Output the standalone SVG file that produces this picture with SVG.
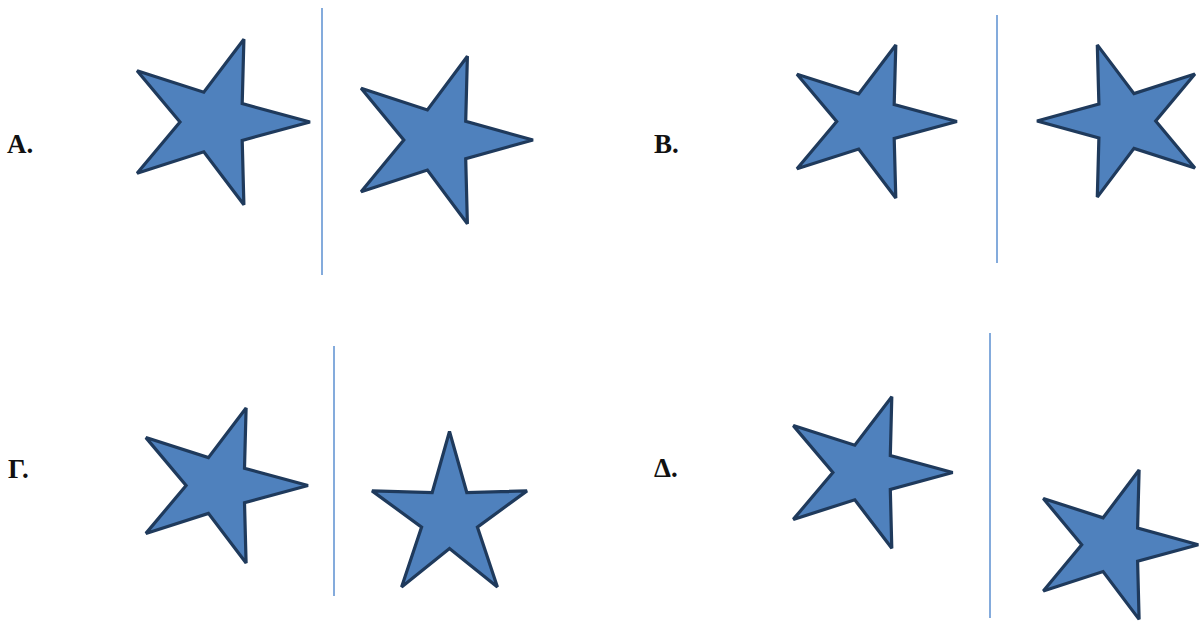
<svg xmlns="http://www.w3.org/2000/svg" width="1203" height="621" viewBox="0 0 1203 621">
<style>
.star{fill:#4f81bd;stroke:#1f3a5c;stroke-width:3.2;stroke-linejoin:miter;stroke-miterlimit:2}
.axis{stroke:#5b8fd0;stroke-width:1.5;fill:none}
.lbl{font-family:"Liberation Serif","DejaVu Serif",serif;font-weight:bold;font-size:27px;fill:#111}
</style>
<rect width="1203" height="621" fill="#fff"/>
<g id="connectors">
<line class="axis" x1="322" y1="8" x2="322" y2="275"/>
<line class="axis" x1="997" y1="15" x2="997" y2="263"/>
<line class="axis" x1="334" y1="346" x2="334" y2="596"/>
<line class="axis" x1="990" y1="333" x2="990" y2="618"/>
</g>
<g id="labelA"><text class="lbl" x="7" y="153">A.</text></g>
<g id="labelB"><text class="lbl" x="654" y="153">B.</text></g>
<g id="labelG"><text class="lbl" x="8" y="478">Γ.</text></g>
<g id="labelD"><text class="lbl" x="654" y="477">Δ.</text></g>
<g id="starA1"><polygon class="star" points="310,122 242.2,140.4 243.9,204.7 203.8,151.8 137.1,173.2 180,122 137.1,70.8 203.8,92.2 243.9,39.3 242.2,103.6"/></g>
<g id="starA2"><polygon class="star" points="533,140 465.7,158.6 467.4,223.7 427.4,170.1 361.1,191.7 403.8,140 361.1,88.3 427.4,109.9 467.4,56.3 465.7,121.4"/></g>
<g id="starB1"><polygon class="star" points="956.9,121.5 894.2,138.5 895.8,198 858.7,149 797,168.8 836.7,121.5 797,74.2 858.7,94 895.8,45 894.2,104.5"/></g>
<g id="starB2"><polygon class="star" points="1037,121 1098.9,137.9 1097.3,197.1 1134,148.4 1194.9,168 1155.7,121 1194.9,74 1134,93.6 1097.3,44.9 1098.9,104.1"/></g>
<g id="starG1"><polygon class="star" points="308,485.5 244.5,502.8 246.1,563 208.4,513.4 145.9,533.4 186.1,485.5 145.9,437.6 208.4,457.6 246.1,408 244.5,468.2"/></g>
<g id="starG2"><polygon class="star" points="449.5,431.5 466.8,492.5 527,490.9 477.4,527.1 497.4,587.1 449.5,548.5 401.6,587.1 421.6,527.1 372,490.9 432.2,492.5"/></g>
<g id="starD1"><polygon class="star" points="952.7,472.5 890.3,489.4 891.8,548.3 854.8,499.8 793.3,519.4 832.9,472.5 793.3,425.6 854.8,445.2 891.8,396.7 890.3,455.6"/></g>
<g id="starD2"><polygon class="star" points="1198.3,544.7 1137.6,561.3 1139.1,619.4 1103.1,571.6 1043.3,590.9 1081.7,544.7 1043.3,498.5 1103.1,517.8 1139.1,470 1137.6,528.1"/></g>
</svg>
